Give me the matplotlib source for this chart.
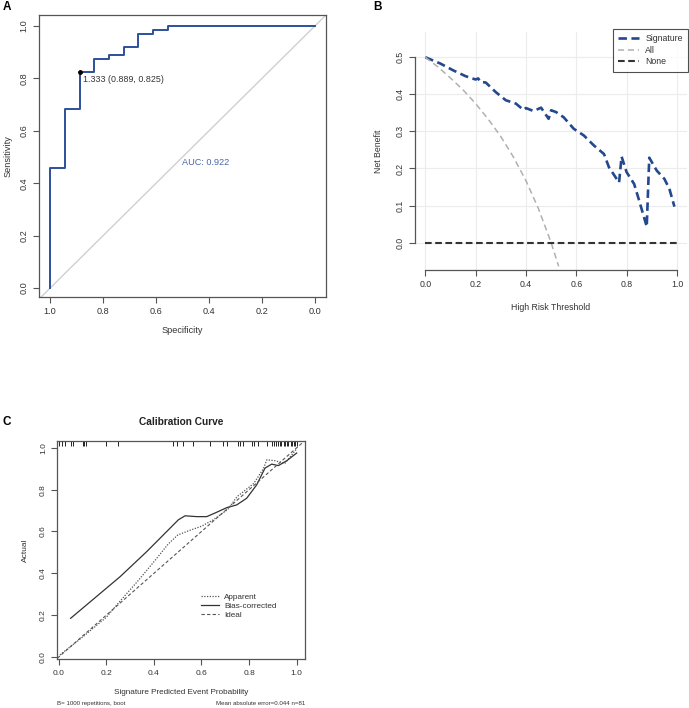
import matplotlib
matplotlib.use("Agg")
import matplotlib.pyplot as plt

# ROC curve (panel A)
roc_spec = [1.000, 1.000, 0.944, 0.944, 0.889, 0.889, 0.833, 0.833, 0.778, 0.778,
            0.722, 0.722, 0.667, 0.667, 0.611, 0.611, 0.556, 0.556, 0.000]
roc_sens = [0.000, 0.460, 0.460, 0.683, 0.683, 0.825, 0.825, 0.873, 0.873, 0.889,
            0.889, 0.921, 0.921, 0.968, 0.968, 0.984, 0.984, 1.000, 1.000]
cut_spec = 0.889
cut_sens = 0.825
cut_label = "1.333 (0.889, 0.825)"
auc_label = "AUC: 0.922"

# decision curve (panel B)
dca_thr = [0.00, 0.06, 0.11, 0.16, 0.20, 0.21, 0.22, 0.24, 0.28, 0.32, 0.36, 0.39,
           0.40, 0.43, 0.46, 0.49, 0.50, 0.52, 0.55, 0.59, 0.63, 0.67, 0.71, 0.73,
           0.77, 0.78, 0.80, 0.83, 0.85, 0.88, 0.89, 0.92, 0.95, 0.97, 0.99]
dca_signature = [0.500, 0.483, 0.465, 0.449, 0.440, 0.443, 0.433, 0.432, 0.406, 0.384,
                 0.375, 0.358, 0.363, 0.355, 0.364, 0.334, 0.357, 0.352, 0.338, 0.307,
                 0.289, 0.262, 0.239, 0.203, 0.162, 0.232, 0.190, 0.158, 0.113, 0.043,
                 0.229, 0.194, 0.172, 0.145, 0.097]
all_thr = [0.00, 0.05, 0.10, 0.15, 0.20, 0.25, 0.30, 0.35, 0.40, 0.45, 0.50, 0.53]
all_nb = [0.500, 0.474, 0.444, 0.412, 0.375, 0.333, 0.286, 0.231, 0.167, 0.091, 0.000, -0.064]
none_thr = [0.0, 1.0]
none_nb = [0.0, 0.0]
dca_labels = ["Signature", "All", "None"]

# calibration curve (panel C)
app_x = [0.005, 0.10, 0.20, 0.26, 0.33, 0.40, 0.46, 0.50, 0.55, 0.60, 0.65, 0.71,
         0.75, 0.82, 0.86, 0.875, 0.91, 0.95, 1.00]
app_y = [0.010, 0.095, 0.190, 0.270, 0.360, 0.455, 0.540, 0.583, 0.605, 0.625, 0.656,
         0.705, 0.767, 0.830, 0.900, 0.943, 0.938, 0.925, 0.995]
bias_x = [0.050, 0.258, 0.370, 0.454, 0.503, 0.531, 0.580, 0.622, 0.664, 0.706, 0.748,
          0.790, 0.832, 0.867, 0.895, 0.923, 0.958, 1.000]
bias_y = [0.185, 0.384, 0.504, 0.600, 0.656, 0.675, 0.671, 0.671, 0.692, 0.714, 0.727,
          0.759, 0.823, 0.903, 0.922, 0.915, 0.938, 0.975]
rug_x = [0.0, 0.013, 0.026, 0.05, 0.061, 0.10, 0.108, 0.115, 0.20, 0.25, 0.482, 0.496,
         0.521, 0.566, 0.636, 0.692, 0.706, 0.755, 0.762, 0.773, 0.811, 0.822, 0.839,
         0.874, 0.895, 0.905, 0.915, 0.92, 0.93, 0.935, 0.945, 0.95, 0.96, 0.965,
         0.975, 0.98, 0.99, 0.995, 1.0]
cal_labels = ["Apparent", "Bias-corrected", "Ideal"]
note_left = "B= 1000 repetitions, boot"
note_right = "Mean absolute error=0.044 n=81"

plt.rcParams["font.family"] = ["Liberation Sans", "DejaVu Sans"]
plt.rcParams["text.color"] = "#333333"
plt.rcParams["axes.labelcolor"] = "#333333"

W, H = 689, 708
fig = plt.figure(figsize=(W / 100, H / 100), dpi=100)


def box(l, t, r, b):
    return [l / W, 1 - b / H, (r - l) / W, (b - t) / H]


def style_ticks(ax, size):
    ax.tick_params(direction="out", length=4.5, width=0.8, colors="#555555",
                   labelcolor="#333333", labelsize=size, pad=3)
    for s in ax.spines.values():
        s.set_color("#555555")
        s.set_linewidth(0.9)


# ---- A ----
axA = fig.add_axes(box(39, 15, 326, 297))
axA.set_xlim(1.042, -0.042)
axA.set_ylim(-0.034, 1.042)
axA.axline((1, 0), (0, 1), color="#d0d0d0", lw=1.0)
axA.plot(roc_spec, roc_sens, color="#2d4f9c", lw=1.4)
axA.plot([cut_spec], [cut_sens], "o", color="black", ms=2.5)
axA.text(cut_spec - 0.014, cut_sens - 0.028, cut_label, fontsize=6.4, ha="left", va="center")
axA.text(0.5, 0.48, auc_label, color="#4a66a8", fontsize=6.6, ha="left", va="center")
ticks = [1.0, 0.8, 0.6, 0.4, 0.2, 0.0]
axA.set_xticks(ticks)
axA.set_xticklabels([f"{t:.1f}" for t in ticks])
yt = [0.0, 0.2, 0.4, 0.6, 0.8, 1.0]
axA.set_yticks(yt)
axA.set_yticklabels([f"{t:.1f}" for t in yt], rotation=90, va="center")
style_ticks(axA, 6.6)
axA.set_xlabel("Specificity", fontsize=6.6, labelpad=7)
axA.set_ylabel("Sensitivity", fontsize=6.6, labelpad=5)

# ---- B ----
axB = fig.add_axes(box(415, 31.7, 687, 270))
axB.set_xlim(-0.041, 1.04)
axB.set_ylim(-0.074, 0.569)
axB.grid(color="#ececec", lw=0.8)
axB.set_axisbelow(True)
axB.plot(dca_thr, dca_signature, color="#23488f", lw=1.9, ls=(0, (3.2, 1.7)),
         label=dca_labels[0])
axB.plot(all_thr, all_nb, color="#b0b0b0", lw=1.1, ls=(0, (4, 2.5)), label=dca_labels[1])
axB.plot(none_thr, none_nb, color="#333333", lw=1.5, ls=(0, (3.2, 1.7)), label=dca_labels[2])
axB.spines["top"].set_visible(False)
axB.spines["right"].set_visible(False)
axB.spines["left"].set_bounds(0, 0.5)
axB.spines["bottom"].set_bounds(0, 1)
bx = [0.0, 0.2, 0.4, 0.6, 0.8, 1.0]
axB.set_xticks(bx)
axB.set_xticklabels([f"{t:.1f}" for t in bx])
by = [0.0, 0.1, 0.2, 0.3, 0.4, 0.5]
axB.set_yticks(by)
axB.set_yticklabels([f"{t:.1f}" for t in by], rotation=90, va="center")
style_ticks(axB, 6.3)
axB.set_xlabel("High Risk Threshold", fontsize=6.3, labelpad=10)
axB.set_ylabel("Net Benefit", fontsize=6.3, labelpad=9)
legB = axB.legend(loc="upper right", bbox_to_anchor=(1.004, 1.012), fontsize=6.3,
                  frameon=True, fancybox=False, handlelength=2.4, labelspacing=0.3,
                  borderpad=0.6, handletextpad=0.7, borderaxespad=0)
legB.get_frame().set_edgecolor("#222222")
legB.get_frame().set_linewidth(0.8)

# ---- C ----
axC = fig.add_axes(box(57.3, 440.7, 305, 659.3))
axC.set_xlim(-0.006, 1.035)
axC.set_ylim(-0.011, 1.034)
axC.plot(app_x, app_y, color="#555555", lw=0.9, ls=(0, (1, 1.2)), label=cal_labels[0])
axC.plot(bias_x, bias_y, color="#333333", lw=0.9, label=cal_labels[1])
axC.axline((0, 0), (1, 1), color="#555555", lw=0.8, ls=(0, (3, 2)), label=cal_labels[2])
axC.vlines(rug_x, 0.975, 1.0, transform=axC.get_xaxis_transform(), color="#222222", lw=0.7)
cx = [0.0, 0.2, 0.4, 0.6, 0.8, 1.0]
axC.set_xticks(cx)
axC.set_xticklabels([f"{t:.1f}" for t in cx])
axC.set_yticks(cx)
axC.set_yticklabels([f"{t:.1f}" for t in cx], rotation=90, va="center")
style_ticks(axC, 6.0)
axC.set_xlabel("Signature Predicted Event Probability", fontsize=5.9, labelpad=9)
axC.set_ylabel("Actual", fontsize=6.0, labelpad=8)
axC.set_title("Calibration Curve", fontsize=7.3, fontweight="bold", pad=11, color="#222222")
axC.legend(loc="center left", bbox_to_anchor=(0.565, 0.245), fontsize=5.9, frameon=False,
           handlelength=2.2, labelspacing=0.15, handletextpad=0.7, borderaxespad=0)
axC.text(0, -0.2, note_left, transform=axC.transAxes, fontsize=4.4, ha="left", va="center")
axC.text(1, -0.2, note_right, transform=axC.transAxes, fontsize=4.4, ha="right", va="center")

# panel letters
for letter, x, y in [("A", 7, 7), ("B", 377, 7), ("C", 7, 422)]:
    fig.text(x / W, 1 - y / H, letter, fontsize=8.5, fontweight="bold", ha="center",
             va="center", color="black")

fig.savefig("out.png", dpi=100)
